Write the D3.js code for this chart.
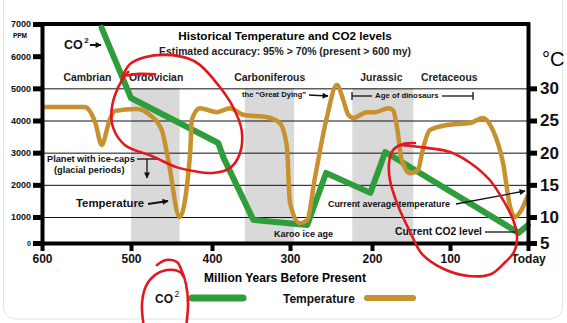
<!DOCTYPE html>
<html>
<head>
<meta charset="utf-8">
<script src="https://cdn.jsdelivr.net/npm/d3@7"></script>
<style>
  body { margin: 0; background: #fff; }
  svg { display: block; font-family: "Liberation Sans", Arial, sans-serif; font-weight: bold; }
</style>
</head>
<body>
<div id="chart"></div>
<script>
// CO2 in ppm, by million years before present
const co2Years = [533, 500, 392, 385, 347, 279, 256, 202, 183, 12, 0];
const co2Values = [6880, 4700, 3300, 2830, 890, 690, 2370, 1750, 3020, 390, 690];

// average temperature in degrees C
const tempYears = [600, 552, 540, 533, 524, 518, 493, 477, 462, 454, 440, 427, 425, 415, 394, 377, 360,
  329, 313, 304, 300, 288, 279, 270, 255, 243, 235, 229, 223, 206, 196, 179, 173, 168, 162, 151,
  141, 136, 126, 104, 74, 58, 45, 32, 23, 17, 8, 0];
const tempValues = [27.1, 27.1, 24.6, 21.2, 25.1, 26.5, 26.8, 25.9, 23.5, 18.9, 10, 19.9, 25.1, 26.9, 26.3, 26.9, 25.9,
  25.5, 24.6, 20.9, 12.2, 8.8, 9.4, 15.8, 25.5, 30.5, 28.2, 25.9, 25.4, 26.3, 26.3, 26.9, 26.6, 24.0, 18.9, 16.8,
  17.3, 19.9, 23.5, 24.3, 24.6, 25.4, 23.5, 18.4, 11.6, 10, 11.2, 13.4];

const yearTicks = [600, 500, 400, 300, 200, 100, 0];
const ppmTicks = [0, 1000, 2000, 3000, 4000, 5000, 6000, 7000];
const gridPpm = [1000, 2000, 3000, 4000, 5000];
const tempTicks = [5, 10, 15, 20, 25, 30];

const periods = ["Cambrian", "Ordovician", "Carboniferous", "Jurassic", "Cretaceous"];
const periodMid = [549, 469, 326, 188, 101];

// ice-cap (glacial) periods
const glacialStart = [500, 358, 224];
const glacialEnd = [440, 295, 147];

const W = 567, H = 323;
const green = "#2e9d3c", tan = "#c8912f", red = "#e3171e";

const svg = d3.select("#chart").append("svg")
  .attr("width", W)
  .attr("height", H);

const defs = svg.append("defs");
defs.append("marker")
  .attr("id", "arrow")
  .attr("viewBox", "0 0 10 10")
  .attr("refX", 9).attr("refY", 5)
  .attr("markerWidth", 7).attr("markerHeight", 6)
  .attr("markerUnits", "userSpaceOnUse")
  .attr("orient", "auto")
  .append("path")
  .attr("d", "M0,0L10,5L0,10z")
  .attr("fill", "#111");

// faint card outline
svg.append("rect")
  .attr("x", 3.5).attr("y", -20)
  .attr("width", 559).attr("height", 339)
  .attr("rx", 12)
  .attr("fill", "none")
  .attr("stroke", "#e4e4e4");

// the time axis is hand spaced, so map each labelled tick to its own position
let x = d3.scaleLinear()
  .domain(yearTicks)
  .range([42, 131, 212, 290, 372, 450, 528]);

let yCo2 = d3.scaleLinear()
  .domain([0, 1000, 7000])
  .range([243, 217, 24]);

let yTemp = d3.scaleLinear()
  .domain([5, 10, 40])
  .range([243, 217, 24]);

// glacial bands
svg.append("g")
  .selectAll("rect")
  .data(d3.zip(glacialStart, glacialEnd))
  .enter()
  .append("rect")
  .attr("x", d => x(d[0]))
  .attr("width", d => x(d[1]) - x(d[0]))
  .attr("y", yCo2(5000))
  .attr("height", yCo2(0) - yCo2(5000))
  .attr("fill", "#d9d9d9");

// grid
svg.append("g")
  .selectAll("line")
  .data(gridPpm)
  .enter()
  .append("line")
  .attr("x1", x(600)).attr("x2", x(0))
  .attr("y1", d => yCo2(d) + 0.5).attr("y2", d => yCo2(d) + 0.5)
  .attr("stroke", "#111")
  .attr("stroke-width", 1);

// top frame
svg.append("line")
  .attr("x1", x(600) - 2).attr("x2", x(0) + 2)
  .attr("y1", yCo2(7000)).attr("y2", yCo2(7000))
  .attr("stroke", "#000")
  .attr("stroke-width", 4);

// data lines
svg.append("path")
  .datum(d3.zip(co2Years, co2Values))
  .attr("fill", "none")
  .attr("stroke", green)
  .attr("stroke-width", 6)
  .attr("stroke-linejoin", "round")
  .attr("stroke-linecap", "round")
  .attr("d", d3.line()
    .x(d => x(d[0]))
    .y(d => yCo2(d[1])));

svg.append("path")
  .datum(d3.zip(tempYears, tempValues))
  .attr("fill", "none")
  .attr("stroke", tan)
  .attr("stroke-width", 4.5)
  .attr("stroke-linejoin", "round")
  .attr("d", d3.line()
    .x(d => x(d[0]))
    .y(d => yTemp(d[1]))
    .curve(d3.curveMonotoneX));

// axes
function thick(g, domainW, tickW, fontSize) {
  g.select(".domain").attr("stroke-width", domainW).attr("stroke-linecap", "square");
  g.selectAll(".tick line").attr("stroke-width", tickW);
  g.selectAll(".tick text")
    .attr("fill", "#111")
    .style("font-size", fontSize)
    .style("font-family", "Liberation Sans, Arial, sans-serif")
    .style("font-weight", "bold");
}

let leftAxis = svg.append("g")
  .attr("transform", "translate(" + x(600) + ",0)")
  .call(d3.axisLeft(yCo2).tickValues(ppmTicks).tickFormat(d3.format("d"))
    .tickSize(9).tickSizeOuter(0).tickPadding(2))
  .call(g => thick(g, 4, 5, "9px"));
leftAxis.selectAll(".tick text").filter(d => d === 0).style("font-size", "7px");

svg.append("g")
  .attr("transform", "translate(0," + yCo2(0) + ")")
  .call(d3.axisBottom(x).tickValues(yearTicks)
    .tickFormat(d => d === 0 ? "Today" : d)
    .tickSize(8).tickSizeOuter(0).tickPadding(3))
  .call(g => thick(g, 4, 4, "12px"));

svg.append("g")
  .attr("transform", "translate(" + x(0) + ",0)")
  .call(d3.axisRight(yTemp).tickValues(tempTicks).tickSize(9).tickSizeOuter(0).tickPadding(3))
  .call(g => thick(g, 4, 5, "17px"));

svg.append("text")
  .attr("x", 20).attr("y", 38)
  .attr("text-anchor", "middle")
  .style("font-size", "6.5px")
  .text("PPM");

svg.append("text")
  .attr("x", 542).attr("y", 66)
  .style("font-size", "20px")
  .style("font-weight", "normal")
  .text("°C");

svg.append("text")
  .attr("x", 285).attr("y", 282)
  .attr("text-anchor", "middle")
  .style("font-size", "12px")
  .text("Million Years Before Present");

// titles
svg.append("text")
  .attr("x", 285).attr("y", 40)
  .attr("text-anchor", "middle")
  .style("font-size", "11.7px")
  .text("Historical Temperature and CO2 levels");

svg.append("text")
  .attr("x", 285).attr("y", 55)
  .attr("text-anchor", "middle")
  .style("font-size", "10.4px")
  .attr("fill", "#222")
  .text("Estimated accuracy: 95% > 70% (present > 600 my)");

// geological periods
svg.append("g")
  .selectAll("text")
  .data(periods)
  .enter()
  .append("text")
  .attr("x", (d, i) => x(periodMid[i]))
  .attr("y", 81)
  .attr("text-anchor", "middle")
  .style("font-size", "10.4px")
  .attr("fill", "#222")
  .text(d => d);

// annotations
function label(px, py, size, txt) {
  return svg.append("text")
    .attr("x", px).attr("y", py)
    .style("font-size", size)
    .attr("fill", "#111")
    .text(txt);
}
function arrow(x1, y1, x2, y2, head) {
  let l = svg.append("line")
    .attr("x1", x1).attr("y1", y1)
    .attr("x2", x2).attr("y2", y2)
    .attr("stroke", "#111")
    .attr("stroke-width", 1.3);
  if (head) l.attr("marker-end", "url(#arrow)");
  return l;
}

let co2Label = label(64, 49, "12.5px", "CO");
co2Label.append("tspan").attr("dx", 1.5).attr("dy", -6).style("font-size", "8px").text("2");
arrow(90, 45, 101, 45, true).attr("stroke-width", 2);

label(47, 162, "9.2px", "Planet with ice-caps");
label(54, 173, "9.2px", "(glacial periods)");
arrow(137, 159, 158, 159, false);
arrow(147, 159, 147, 178, true);

label(76, 207, "11.4px", "Temperature");
arrow(148, 204, 168, 201, true).attr("stroke-width", 2);

label(242, 97, "7.6px", "the \u201cGreat Dying\u201d");
arrow(309, 95, 328, 96, true);

arrow(352, 92, 352, 100, false);
arrow(352, 96, 372, 96, false);
label(375, 98, "7.8px", "Age of dinosaurs");
arrow(442, 96, 473, 96, false);
arrow(473, 92, 473, 100, false);

label(274, 237, "9px", "Karoo ice age");

label(328, 207, "8.9px", "Current average temperature");
arrow(456, 204, 525, 191, true);

label(395, 235, "10.3px", "Current CO2 level");
arrow(485, 232, 517, 232, false);

// legend
const lx = 155, ly = 298;
let leg = label(lx, ly + 5, "12px", "CO");
leg.append("tspan").attr("dx", 1.5).attr("dy", -6).style("font-size", "8.5px").style("font-weight", "normal").text("2");
svg.append("line")
  .attr("x1", lx + 37).attr("x2", lx + 88)
  .attr("y1", ly).attr("y2", ly)
  .attr("stroke", green).attr("stroke-width", 7).attr("stroke-linecap", "round");
label(lx + 128, ly + 5, "12px", "Temperature");
svg.append("line")
  .attr("x1", lx + 212).attr("x2", lx + 258)
  .attr("y1", ly).attr("y2", ly)
  .attr("stroke", tan).attr("stroke-width", 6).attr("stroke-linecap", "round");

// red marker circles drawn over the chart
const pen = d3.line().curve(d3.curveCatmullRom.alpha(0.5));
function scribble(pts) {
  svg.append("path")
    .attr("d", pen(pts))
    .attr("fill", "none")
    .attr("stroke", red)
    .attr("stroke-width", 2.6)
    .attr("stroke-linecap", "round")
    .attr("stroke-linejoin", "round");
}
const inPlot = pts => pts.map(p => [x(p[0]), yCo2(p[1])]);

scribble(inPlot([[510, 5350], [501, 5760], [483, 5970], [456, 6040], [431, 5940], [415, 5730], [390, 5040],
  [373, 4420], [362, 3700], [364, 2990], [377, 2520], [399, 2370], [423, 2430], [444, 2550], [472, 2870],
  [507, 3240], [520, 3770], [522, 4260], [518, 4790], [510, 5260], [503, 5510]]));
scribble(inPlot([[504, 5400], [490, 5450], [470, 5440]]));

scribble(inPlot([[164, 3240], [130, 3150], [100, 3020], [74, 2680], [49, 2150], [32, 1530], [19, 885],
  [14, 230], [18, -350], [29, -730], [47, -1190], [76, -1270], [108, -1000], [136, -420], [151, 420],
  [167, 1370], [177, 2150], [178, 2710], [173, 3080], [160, 3270], [145, 3300]]));

const aroundLegend = pts => pts.map(p => [lx + p[0], ly + p[1]]);
scribble(aroundLegend([[2, -33], [11, -38], [22, -36], [26, -29], [31, -14], [33, 6], [31, 30]]));
scribble(aroundLegend([[-11, 30], [-13, 6], [-9, -12], [0, -23], [12, -28], [25, -26], [28, -22]]));
</script>
</body>
</html>
